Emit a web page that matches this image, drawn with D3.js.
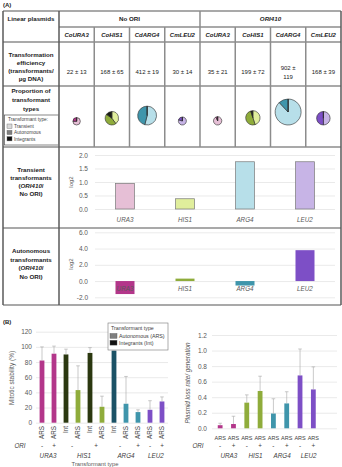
<!DOCTYPE html>
<html>
<head>
<meta charset="utf-8">
<script src="https://cdn.jsdelivr.net/npm/d3@7"></script>
<style>
body { margin: 0; background: #fff; }
svg { display: block; font-family: "Liberation Sans", Arial, sans-serif; }
.tick text { fill: #595959; }
</style>
</head>
<body>
<script>
// ---- data ----
var genes = ["URA3", "HIS1", "ARG4", "LEU2"];
var plasmids = ["CoURA3", "CoHIS1", "CdARG4", "CmLEU2"];
var efficiency = ["22 ± 13", "168 ± 65", "412 ± 19", "30 ± 14", "35 ± 21", "199 ± 72", "902 ± 119", "168 ± 39"];
var efficiencyMean = [22, 168, 412, 30, 35, 199, 902, 168];
// share of each transformant type, No ORI x4 then ORI410 x4
var transientShare = [0.75, 0.40, 0.54, 0.80, 0.93, 0.45, 0.88, 0.50];
var autonomousShare = [0.25, 0.45, 0.46, 0.20, 0.07, 0.50, 0.12, 0.50];
var integrantShare = [0, 0.15, 0, 0, 0, 0.05, 0, 0];
var transientLog2 = [0.95, 0.38, 1.75, 1.75];
var autonomousLog2 = [-1.6, 0.3, -0.55, 3.8];

var stabGene = ["URA3", "URA3", "HIS1", "HIS1", "HIS1", "HIS1", "ARG4", "ARG4", "ARG4", "LEU2", "LEU2"];
var stabOri = ["-", "+", "-", "-", "+", "+", "-", "-", "+", "-", "+"];
var stabType = ["ARS", "ARS", "Int", "ARS", "Int", "ARS", "Int", "ARS", "ARS", "ARS", "ARS"];
var stabMean = [82, 91, 90, 43, 92, 21, 95, 25, 14, 17, 28];
var stabErr = [18, 10, 7, 32, 7, 14, 3, 36, 3, 12, 6];

var lossGene = ["URA3", "URA3", "HIS1", "HIS1", "ARG4", "ARG4", "LEU2", "LEU2"];
var lossOri = ["-", "+", "-", "+", "-", "+", "-", "+"];
var lossMean = [0.04, 0.055, 0.33, 0.48, 0.19, 0.32, 0.68, 0.50];
var lossErr = [0.025, 0.10, 0.10, 0.19, 0.19, 0.15, 0.34, 0.29];

var lightCol = { URA3: "#e6bfd6", HIS1: "#e0ee9c", ARG4: "#b7dfe9", LEU2: "#c7b4e6" };
var autoCol = { URA3: "#b3368a", HIS1: "#8fac3b", ARG4: "#3f95ab", LEU2: "#7d4fc6" };
var intCol = { HIS1: "#2b3810", ARG4: "#1b5266" };

var W = 342, H = 467;
var svg = d3.select("body").append("svg").attr("width", W).attr("height", H);

function txt(x, y, s, size, opts) {
  opts = opts || {};
  return svg.append("text").attr("x", x).attr("y", y)
    .attr("text-anchor", opts.anchor || "middle")
    .attr("font-size", size)
    .attr("font-weight", opts.bold ? "bold" : null)
    .attr("font-style", opts.italic ? "italic" : null)
    .attr("fill", opts.fill || "#222")
    .text(s);
}

// ================= (A) table =================
txt(3, 7, "(A)", 6, { anchor: "start", bold: true });

var tLeft = 3, tEdge = 59, tRight = 341;
var rowY = [11, 27, 42, 86, 147, 228, 305];
var col = d3.scaleBand().domain(d3.range(8)).range([tEdge, tRight]);
var bw = col.bandwidth();

var grid = svg.append("g").attr("stroke", "#8c8c8c").attr("stroke-width", 1.5);
[0, 2, 3, 4, 5, 6].forEach(function(i) {
  grid.append("line").attr("x1", tLeft).attr("x2", tRight).attr("y1", rowY[i]).attr("y2", rowY[i]);
});
grid.append("line").attr("x1", tEdge).attr("x2", tRight).attr("y1", rowY[1]).attr("y2", rowY[1]);
d3.range(1, 8).forEach(function(i) {
  grid.append("line").attr("x1", col(i)).attr("x2", col(i))
    .attr("y1", i === 4 ? rowY[0] : rowY[1]).attr("y2", rowY[4]);
});
[tLeft, tEdge, tRight].forEach(function(x) {
  grid.append("line").attr("x1", x).attr("x2", x).attr("y1", rowY[0]).attr("y2", rowY[6])
    .attr("stroke", "#5a5a5a");
});

// header rows
txt(31, 20.5, "Linear plasmids", 6.2, { bold: true });
txt((col(0) + col(3) + bw) / 2, 21, "No ORI", 6.2, { bold: true });
txt((col(4) + col(7) + bw) / 2, 21, "ORI410", 6.2, { bold: true, italic: true });
d3.range(8).forEach(function(i) {
  txt(col(i) + bw / 2, 37, plasmids[i % 4], 6, { bold: true, italic: true });
});

// transformation efficiency
["Transformation", "efficiency", "(transformants/", "µg DNA)"].forEach(function(s, k) {
  txt(31, 57 + k * 8, s, 6.2, { bold: true });
});
efficiency.forEach(function(s, i) {
  var cx = col(i) + bw / 2;
  if (s.length > 8) {
    var cut = s.lastIndexOf(" ");
    txt(cx, 69.5, s.slice(0, cut), 6);
    txt(cx, 78.5, s.slice(cut + 1), 6);
  } else {
    txt(cx, 74, s, 6);
  }
});

// proportions (pies)
["Proportion of", "transformant", "types"].forEach(function(s, k) {
  txt(31, 93 + k * 9, s, 6.2, { bold: true });
});
svg.append("rect").attr("x", 4.5).attr("y", 115).attr("width", 54).attr("height", 30)
  .attr("fill", "#fff").attr("stroke", "#555").attr("stroke-width", 0.7);
txt(8, 121, "Transformant  type:", 4.8, { anchor: "start", fill: "#444" });
[["Transient", "#d9d9d9"], ["Autonomous", "#7f7f7f"], ["Integrants", "#111"]].forEach(function(d, k) {
  svg.append("rect").attr("x", 7).attr("y", 124 + k * 6.3).attr("width", 5).attr("height", 4.3)
    .attr("fill", d[1]).attr("stroke", "#666").attr("stroke-width", 0.4);
  txt(14, 128 + k * 6.3, d[0], 4.8, { anchor: "start", fill: "#444" });
});

var rScale = d3.scaleSqrt().domain([0, d3.max(efficiencyMean)]).range([0, 11]);
var pie = d3.pie().sort(null);
var arc = d3.arc().innerRadius(0);
d3.range(8).forEach(function(i) {
  var g = genes[i % 4];
  var r = 2 + rScale(efficiencyMean[i]);
  var shares = [transientShare[i], autonomousShare[i], integrantShare[i]];
  var fills = [lightCol[g], autoCol[g], "#1a1d12"];
  var pg = svg.append("g").attr("transform", "translate(" + (col(i) + bw / 2) + "," + (125 - r) + ")");
  pg.selectAll("path").data(pie(shares)).enter().append("path")
    .attr("d", function(d) { return arc.outerRadius(r)(d); })
    .attr("fill", function(d, k) { return fills[k]; })
    .attr("stroke", "#2a2a2a").attr("stroke-width", 0.6);
});

// ratio charts inside rows 5 and 6
var xRatio = d3.scaleBand().domain(genes).range([95, 335]);
var barW = 19;

function ratioChart(values, yDomain, yRange, ticks, labelY, titleY, filled) {
  var y = d3.scaleLinear().domain(yDomain).range(yRange);
  var ax = svg.append("g").attr("transform", "translate(95,0)")
    .call(d3.axisLeft(y).tickValues(ticks).tickSize(-240).tickPadding(7)
      .tickFormat(function(d) { return d.toFixed(1); }));
  ax.select(".domain").remove();
  ax.selectAll(".tick line").attr("stroke", "#dcdcdc").attr("stroke-width", 0.6);
  ax.selectAll(".tick text").attr("font-size", 6.5).attr("font-family", null);
  svg.append("text").attr("transform", "translate(73," + titleY + ") rotate(-90)")
    .attr("text-anchor", "middle").attr("font-size", 6).attr("fill", "#595959").text("log2");
  svg.append("g").selectAll("rect").data(values).enter().append("rect")
    .attr("x", function(d, i) { return xRatio(genes[i]) + (xRatio.bandwidth() - barW) / 2; })
    .attr("y", function(d) { return y(Math.max(0, d)); })
    .attr("width", barW)
    .attr("height", function(d) { return Math.abs(y(d) - y(0)); })
    .attr("fill", function(d, i) { return filled ? autoCol[genes[i]] : lightCol[genes[i]]; })
    .attr("stroke", filled ? null : "#7a7a7a").attr("stroke-width", 0.7);
  genes.forEach(function(g) {
    txt(xRatio(g) + xRatio.bandwidth() / 2, labelY, g, 6.3, { italic: true, fill: "#595959" });
  });
}

["Transient", "transformants", "(ORI410/", "No ORI)"].forEach(function(s, k) {
  txt(31, 172 + k * 8, s, 6.2, { bold: true });
});
ratioChart(transientLog2, [0, 2], [209, 155], [0, 0.5, 1, 1.5, 2], 221.5, 182, false);

["Autonomous", "transformants", "(ORI410/", "No ORI)"].forEach(function(s, k) {
  txt(31, 253 + k * 8.6, s, 6.2, { bold: true });
});
ratioChart(autonomousLog2, [-2, 6], [297.3, 232.3], [-2, 0, 2, 4, 6], 290.5, 264, true);

// italic ORI410 inside the row labels
svg.selectAll("text").filter(function() { return d3.select(this).text() === "(ORI410/"; })
  .text(null).each(function() {
    var t = d3.select(this);
    t.append("tspan").text("(");
    t.append("tspan").attr("font-style", "italic").text("ORI410");
    t.append("tspan").text("/");
  });

// ================= (B) =================
txt(3, 324, "(B)", 6, { anchor: "start", bold: true });

function barColor(i) {
  return stabType[i] === "Int" ? intCol[stabGene[i]] : autoCol[stabGene[i]];
}

function addErr(g, xs, ys, means, errs, w) {
  means.forEach(function(m, i) {
    var cx = xs(i);
    g.append("line").attr("x1", cx).attr("x2", cx).attr("y1", ys(m)).attr("y2", ys(m + errs[i]));
    g.append("line").attr("x1", cx - w).attr("x2", cx + w).attr("y1", ys(m + errs[i])).attr("y2", ys(m + errs[i]));
  });
}

function groupCenters(genesArr, oriArr, xc) {
  var byOri = d3.rollups(d3.range(genesArr.length), function(v) { return d3.mean(v, xc); },
    function(i) { return genesArr[i] + oriArr[i]; });
  var byGene = d3.rollups(d3.range(genesArr.length), function(v) { return d3.mean(v, xc); },
    function(i) { return genesArr[i]; });
  return { ori: byOri, gene: byGene };
}

// --- mitotic stability ---
var yS = d3.scaleLinear().domain([0, 120]).range([422.7, 331.7]);
var xS = d3.scaleBand().domain(d3.range(stabMean.length)).range([36, 168]);
var sW = 4.8;
var axS = svg.append("g").attr("transform", "translate(36,0)")
  .call(d3.axisLeft(yS).tickValues(d3.range(0, 121, 20)).tickSize(-132).tickPadding(4));
axS.select(".domain").remove();
axS.selectAll(".tick line").attr("stroke", "#dcdcdc").attr("stroke-width", 0.6);
axS.selectAll(".tick text").attr("font-size", 6.5).attr("font-family", null);

svg.append("g").selectAll("rect").data(stabMean).enter().append("rect")
  .attr("x", function(d, i) { return xS(i) + (xS.bandwidth() - sW) / 2; })
  .attr("y", function(d) { return yS(d); })
  .attr("width", sW)
  .attr("height", function(d) { return yS(0) - yS(d); })
  .attr("fill", function(d, i) { return barColor(i); });
var eS = svg.append("g").attr("stroke", "#a6a6a6").attr("stroke-width", 0.6);
addErr(eS, function(i) { return xS(i) + xS.bandwidth() / 2; }, yS, stabMean, stabErr, 1.8);

stabType.forEach(function(s, i) {
  svg.append("text").attr("transform", "translate(" + (xS(i) + xS.bandwidth() / 2 + 2.2) + ",426) rotate(-90)")
    .attr("text-anchor", "end").attr("font-size", 6.3).attr("fill", "#404040").text(s);
});
var gcS = groupCenters(stabGene, stabOri, function(i) { return xS(i) + xS.bandwidth() / 2; });
txt(20, 448, "ORI", 6.3, { italic: true, fill: "#404040" });
gcS.ori.forEach(function(d) { txt(d[1], 448, d[0].slice(-1), 6.3, { fill: "#404040" }); });
gcS.gene.forEach(function(d) { txt(d[1], 458, d[0], 6.3, { italic: true, fill: "#404040" }); });

svg.append("text").attr("transform", "translate(14,378) rotate(-90)")
  .attr("text-anchor", "middle").attr("font-size", 6.5).attr("fill", "#595959").text("Mitotic stability (%)");
txt(95, 466, "Transformant type", 5.8, { fill: "#595959" });

// legend
var lg = svg.append("g");
lg.append("rect").attr("x", 108).attr("y", 323).attr("width", 60).attr("height", 27)
  .attr("fill", "#fff").attr("stroke", "#777").attr("stroke-width", 0.6);
txt(111, 330, "Transformant  type", 5.3, { anchor: "start", fill: "#404040" });
[["Autonomous (ARS)", "#7f7f7f"], ["Integrants (Int)", "#111"]].forEach(function(d, k) {
  lg.append("rect").attr("x", 110).attr("y", 333.5 + k * 6.8).attr("width", 7).attr("height", 4.8)
    .attr("fill", d[1]).attr("stroke", "#555").attr("stroke-width", 0.4);
  txt(119, 338 + k * 6.8, d[0], 5.3, { anchor: "start", fill: "#404040" });
});

// --- plasmid loss rate ---
var yL = d3.scaleLinear().domain([0, 1.2]).range([428.3, 335]);
var xL = d3.scaleBand().domain(d3.range(lossMean.length)).range([213.5, 320]);
var axL = svg.append("g").attr("transform", "translate(212,0)")
  .call(d3.axisLeft(yL).ticks(6).tickSize(-125).tickPadding(5)
    .tickFormat(function(d) { return d.toFixed(1); }));
axL.select(".domain").remove();
axL.selectAll(".tick line").attr("stroke", "#dcdcdc").attr("stroke-width", 0.6);
axL.selectAll(".tick text").attr("font-size", 6.5).attr("font-family", null);

svg.append("g").selectAll("rect").data(lossMean).enter().append("rect")
  .attr("x", function(d, i) { return xL(i) + (xL.bandwidth() - sW) / 2; })
  .attr("y", function(d) { return yL(d); })
  .attr("width", sW)
  .attr("height", function(d) { return yL(0) - yL(d); })
  .attr("fill", function(d, i) { return autoCol[lossGene[i]]; });
var eL = svg.append("g").attr("stroke", "#a6a6a6").attr("stroke-width", 0.6);
addErr(eL, function(i) { return xL(i) + xL.bandwidth() / 2; }, yL, lossMean, lossErr, 1.8);

lossMean.forEach(function(d, i) {
  txt(xL(i) + xL.bandwidth() / 2, 440, "ARS", 5.5, { fill: "#404040" });
  txt(xL(i) + xL.bandwidth() / 2, 448, lossOri[i], 6.3, { fill: "#404040" });
});
txt(198, 448, "ORI", 6.3, { italic: true, fill: "#404040" });
var gcL = groupCenters(lossGene, lossOri, function(i) { return xL(i) + xL.bandwidth() / 2; });
gcL.gene.forEach(function(d) { txt(d[1] + 2, 458, d[0], 6.3, { italic: true, fill: "#404040" }); });

svg.append("text").attr("transform", "translate(190,383) rotate(-90)")
  .attr("text-anchor", "middle").attr("font-size", 6.3).attr("font-style", "italic")
  .attr("fill", "#595959").text("Plasmid loss rate/ generation");
</script>
</body>
</html>
